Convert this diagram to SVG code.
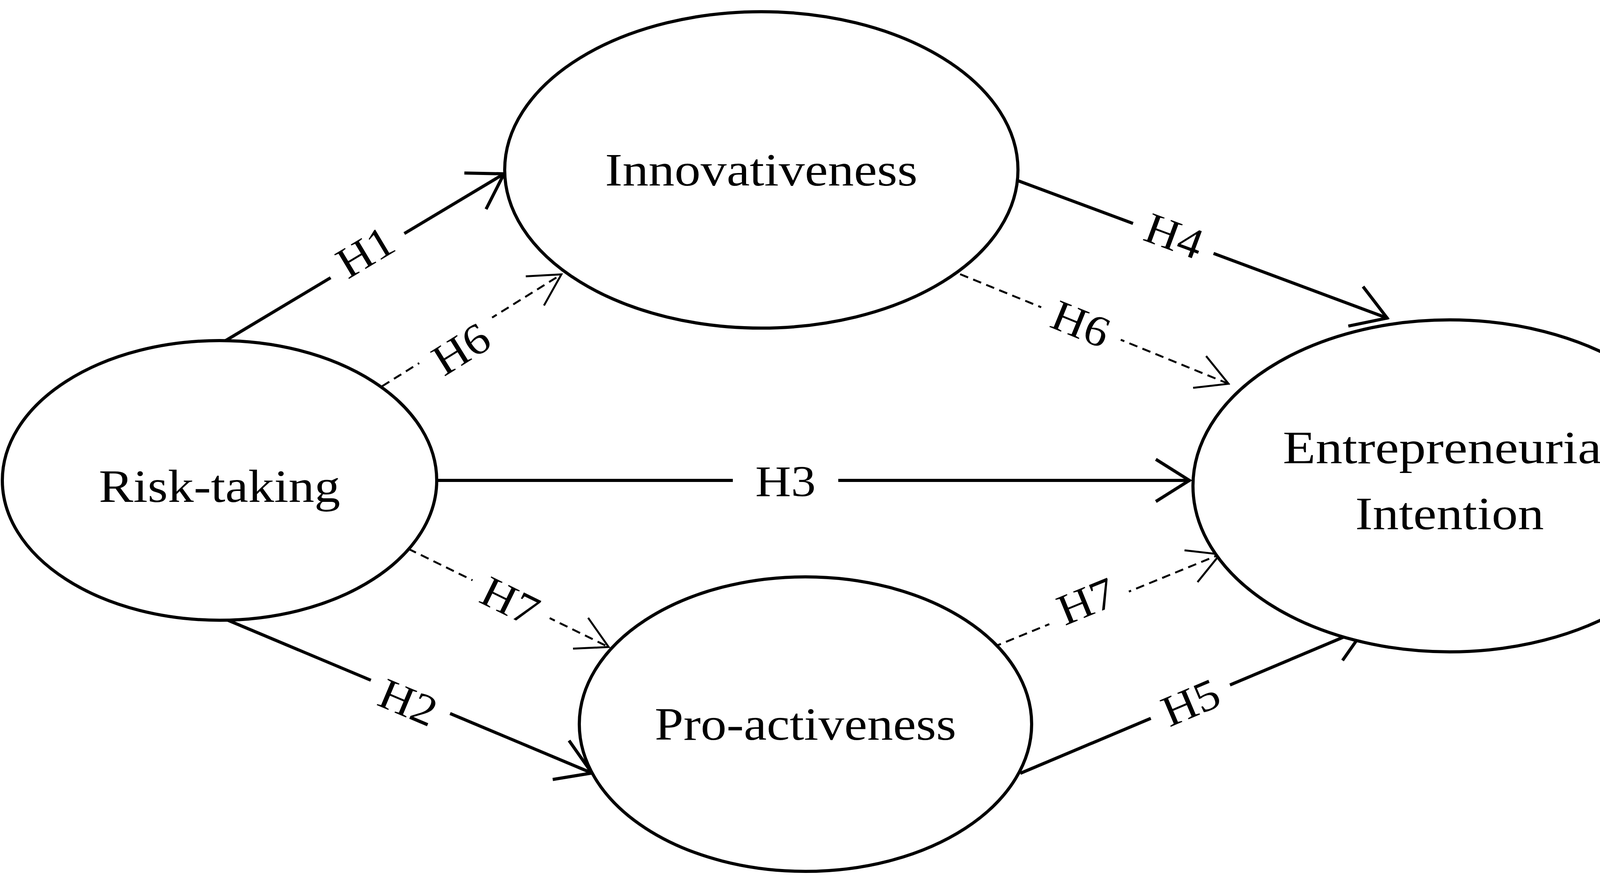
<svg xmlns="http://www.w3.org/2000/svg" width="4404" height="2248" viewBox="0 0 4404 2248">
<style>
.n{fill:#fff;stroke:#000;stroke-width:8}
.t{font-family:"Liberation Serif",serif;font-size:118px;text-anchor:middle;dominant-baseline:central}
.l{font-family:"Liberation Serif",serif;font-size:112px;text-anchor:middle;dominant-baseline:central}
.s{stroke:#000;stroke-width:8;fill:none}
.d{stroke:#000;stroke-width:5;fill:none;stroke-dasharray:22 14}
.g{fill:#fff}
</style>
<defs>
<marker id="a" viewBox="0 0 100 120" refX="96" refY="60" markerWidth="100" markerHeight="120" markerUnits="userSpaceOnUse" orient="auto"><polyline points="8,6 94,60 8,114" fill="none" stroke="#000" stroke-width="8"/></marker>
<marker id="b" viewBox="0 0 90 100" refX="87" refY="50" markerWidth="90" markerHeight="100" markerUnits="userSpaceOnUse" orient="auto"><polyline points="6,6 86,50 6,94" fill="none" stroke="#000" stroke-width="5"/></marker>
</defs>
<g id="connectors">
<line class="s" x1="556" y1="885" x2="1292" y2="444" marker-end="url(#a)"/>
<line class="d" x1="978" y1="989" x2="1438" y2="702" marker-end="url(#b)"/>
<line class="s" x1="1118" y1="1230" x2="3047" y2="1230" marker-end="url(#a)"/>
<line class="d" x1="1045" y1="1405" x2="1559" y2="1657" marker-end="url(#b)"/>
<line class="s" x1="562" y1="1579" x2="1517" y2="1980" marker-end="url(#a)"/>
<line class="s" x1="2607" y1="463" x2="3553" y2="815" marker-end="url(#a)"/>
<line class="d" x1="2458" y1="702" x2="3146" y2="983" marker-end="url(#b)"/>
<line class="d" x1="2542" y1="1657" x2="3124" y2="1419" marker-end="url(#b)"/>
<line class="s" x1="2612" y1="1980" x2="3497" y2="1607" marker-end="url(#a)"/>
<g transform="translate(935,645) rotate(-30.9)"><rect class="g" x="-110" y="-45" width="220" height="90"/><text class="l" textLength="150" lengthAdjust="spacingAndGlyphs">H1</text></g>
<g transform="translate(1180,893) rotate(-31.9)"><rect class="g" x="-110" y="-45" width="220" height="90"/><text class="l" textLength="150" lengthAdjust="spacingAndGlyphs">H6</text></g>
<g transform="translate(2011,1232)"><rect class="g" x="-135" y="-45" width="270" height="90"/><text class="l" textLength="155" lengthAdjust="spacingAndGlyphs">H3</text></g>
<g transform="translate(1306,1539) rotate(26.2)"><rect class="g" x="-110" y="-45" width="220" height="90"/><text class="l" textLength="150" lengthAdjust="spacingAndGlyphs">H7</text></g>
<g transform="translate(1045,1798) rotate(22.8)"><rect class="g" x="-110" y="-45" width="220" height="90"/><text class="l" textLength="150" lengthAdjust="spacingAndGlyphs">H2</text></g>
<g transform="translate(3006,604) rotate(20.3)"><rect class="g" x="-110" y="-45" width="220" height="90"/><text class="l" textLength="150" lengthAdjust="spacingAndGlyphs">H4</text></g>
<g transform="translate(2767,829) rotate(22.2)"><rect class="g" x="-110" y="-45" width="220" height="90"/><text class="l" textLength="150" lengthAdjust="spacingAndGlyphs">H6</text></g>
<g transform="translate(2781,1539) rotate(-22.2)"><rect class="g" x="-110" y="-45" width="220" height="90"/><text class="l" textLength="150" lengthAdjust="spacingAndGlyphs">H7</text></g>
<g transform="translate(3048,1798) rotate(-22.9)"><rect class="g" x="-110" y="-45" width="220" height="90"/><text class="l" textLength="150" lengthAdjust="spacingAndGlyphs">H5</text></g>
</g>
<g id="innovativeness"><ellipse class="n" cx="1949" cy="435" rx="657" ry="405"/><text class="t" x="1949" y="435" textLength="800" lengthAdjust="spacingAndGlyphs">Innovativeness</text></g>
<g id="risk-taking"><ellipse class="n" cx="562" cy="1230" rx="556" ry="358"/><text class="t" x="562" y="1245" textLength="618" lengthAdjust="spacingAndGlyphs">Risk-taking</text></g>
<g id="pro-activeness"><ellipse class="n" cx="2062" cy="1854" rx="579" ry="377"/><text class="t" x="2062" y="1854" textLength="772" lengthAdjust="spacingAndGlyphs">Pro-activeness</text></g>
<g id="entrepreneurial-intention"><ellipse class="n" cx="3711" cy="1244" rx="657" ry="425"/><text class="t" x="3711" y="1146" textLength="854" lengthAdjust="spacingAndGlyphs">Entrepreneurial</text><text class="t" x="3711" y="1315" textLength="483" lengthAdjust="spacingAndGlyphs">Intention</text></g>
</svg>
